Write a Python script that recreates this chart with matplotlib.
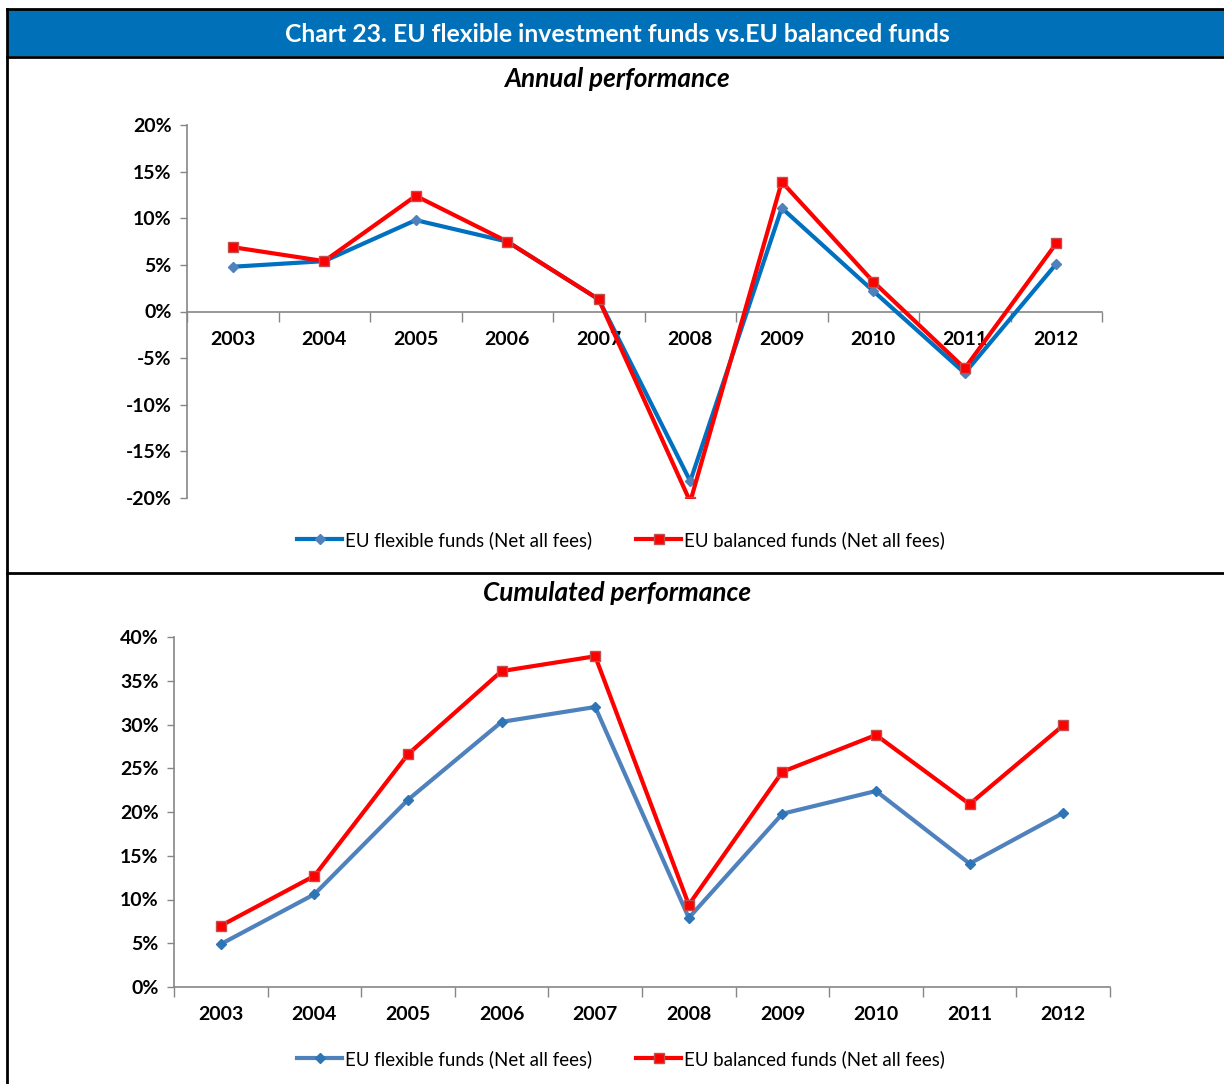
import matplotlib

matplotlib.use("Agg")

import matplotlib.pyplot as plt
import numpy as np
from matplotlib.lines import Line2D
from matplotlib.patches import Rectangle
from matplotlib.ticker import FixedLocator, FuncFormatter

plt.rcParams["font.family"] = ["Lato", "DejaVu Sans"]

years = ["2003", "2004", "2005", "2006", "2007", "2008", "2009", "2010", "2011", "2012"]

# annual returns, %
annual_flexible = [4.8, 5.4, 9.8, 7.5, 1.3, -18.2, 11.1, 2.2, -6.6, 5.1]
annual_balanced = [6.9, 5.4, 12.4, 7.5, 1.3, -20.4, 13.9, 3.2, -6.1, 7.3]

# cumulated returns since 2003, %
cumul_flexible = [4.9, 10.6, 21.4, 30.3, 32.0, 7.9, 19.8, 22.4, 14.1, 19.9]
cumul_balanced = [7.0, 12.7, 26.6, 36.1, 37.8, 9.4, 24.6, 28.8, 20.9, 29.9]

label_flexible = "EU flexible funds (Net all fees)"
label_balanced = "EU balanced funds (Net all fees)"

W, H = 1224, 1084
fig = plt.figure(figsize=(W / 100, H / 100), dpi=100)

# page frame, header bar and panel separators in pixel space
bg = fig.add_axes([0, 0, 1, 1], zorder=-1)
bg.set_xlim(0, W)
bg.set_ylim(H, 0)
bg.axis("off")
bg.add_patch(Rectangle((7, 9), W - 7, 47, facecolor="#0070B8", edgecolor="none"))
for y in (9, 57, 573):
    bg.add_line(Line2D([7, W], [y, y], color="black", lw=2))
bg.add_line(Line2D([7, 7], [9, H], color="black", lw=2))
bg.text(617, 34, "Chart 23. EU flexible investment funds vs.EU balanced funds",
        ha="center", va="center", color="white", fontsize=17.8, fontweight="bold")
bg.text(617, 79, "Annual performance", ha="center", va="center",
        fontsize=18.8, fontweight="bold", fontstyle="italic")
bg.text(617, 593, "Cumulated performance", ha="center", va="center",
        fontsize=18.8, fontweight="bold", fontstyle="italic")

GREY = "#868686"
x = np.arange(len(years))


def style_axes(ax, ymin, ymax, step):
    ax.set_xlim(-0.5, len(years) - 0.5)
    ax.set_ylim(ymin, ymax)
    for side in ("top", "right"):
        ax.spines[side].set_visible(False)
    for side in ("left", "bottom"):
        ax.spines[side].set_color(GREY)
        ax.spines[side].set_linewidth(1.2)
    ax.yaxis.set_major_locator(FixedLocator(np.arange(ymin, ymax + step / 2, step)))
    ax.yaxis.set_major_formatter(FuncFormatter(lambda v, _: f"{v:.0f}%"))
    ax.xaxis.set_major_locator(FixedLocator(x))
    ax.set_xticklabels(years)
    ax.xaxis.set_minor_locator(FixedLocator(np.arange(-0.5, len(years), 1.0)))
    ax.tick_params(axis="y", direction="out", length=5, width=1, color=GREY,
                   labelsize=14, pad=6)
    ax.tick_params(axis="x", which="major", length=0, labelsize=14, pad=14)
    ax.tick_params(axis="x", which="minor", direction="out", length=7, width=1, color=GREY)
    for lab in ax.get_xticklabels() + ax.get_yticklabels():
        lab.set_fontweight("bold")


def add_legend(ax, y_pix):
    ax.legend(loc="center", bbox_to_anchor=(621 / W, 1 - y_pix / H),
              bbox_transform=fig.transFigure, ncol=2, frameon=False,
              fontsize=13.4, handlelength=2.4, handletextpad=0.15, columnspacing=2.4)


# annual panel
ax1 = fig.add_axes([187 / W, 1 - 498 / H, 915 / W, 373 / H])
ax1.spines["bottom"].set_position(("data", 0))
ax1.plot(x, annual_flexible, color="#0070C0", lw=3, marker="D", ms=5.5,
         mfc="#4F81BD", mec="#4F81BD", label=label_flexible, zorder=3)
ax1.plot(x, annual_balanced, color="#FF0000", lw=3, marker="s", ms=7,
         mfc="#FF0000", mec="#C0504D", mew=1, label=label_balanced, zorder=4)
style_axes(ax1, -20, 20, 5)
add_legend(ax1, 540)

# cumulated panel
ax2 = fig.add_axes([174 / W, 1 - 987 / H, 936 / W, 350 / H])
ax2.plot(x, cumul_flexible, color="#4F81BD", lw=3, marker="D", ms=5.5,
         mfc="#2E75B6", mec="#2E75B6", label=label_flexible, zorder=3)
ax2.plot(x, cumul_balanced, color="#FF0000", lw=3, marker="s", ms=7,
         mfc="#FF0000", mec="#C0504D", mew=1, label=label_balanced, zorder=4)
style_axes(ax2, 0, 40, 5)
add_legend(ax2, 1059)

fig.savefig("out.png", dpi=100)
